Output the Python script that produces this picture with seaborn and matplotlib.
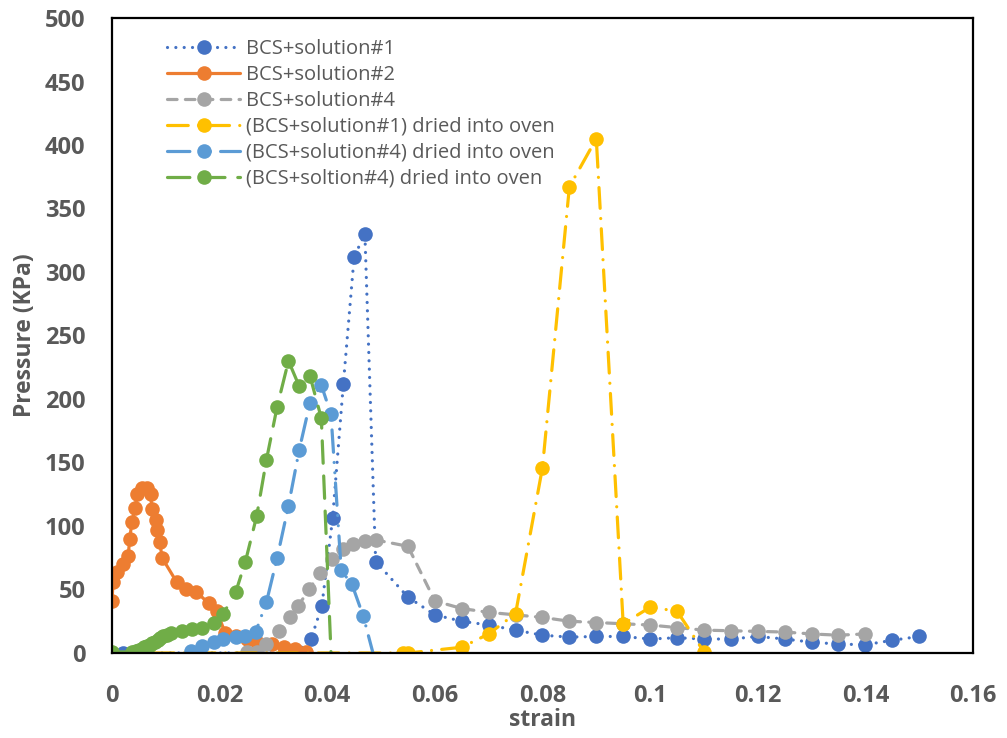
import matplotlib
matplotlib.use("Agg")
import matplotlib.pyplot as plt
import seaborn as sns
import pandas as pd

# ---------------- data ----------------
labels = ["BCS+solution#1", "BCS+solution#2", "BCS+solution#4",
          "(BCS+solution#1) dried into oven", "(BCS+solution#4) dried into oven",
          "(BCS+soltion#4) dried into oven"]

x1 = [0, 0.002, 0.034, 0.037, 0.039, 0.041, 0.043, 0.045, 0.047, 0.049, 0.055, 0.06, 0.065,
      0.07, 0.075, 0.08, 0.085, 0.09, 0.095, 0.1, 0.105, 0.11, 0.115, 0.12, 0.125, 0.13,
      0.135, 0.14, 0.145, 0.15]
y1 = [0, 0, 0, 11, 37, 106, 212, 312, 330, 72, 44, 30, 25, 22, 18, 14, 12.5, 13, 13, 11, 12,
      11, 11, 13, 11, 8.5, 7, 6.5, 10, 13]

x2 = [0.0, 0.0002, 0.001, 0.002, 0.003, 0.0033, 0.0037, 0.0043, 0.0047, 0.0056, 0.0065,
      0.0072, 0.0074, 0.0081, 0.0083, 0.0089, 0.0093, 0.012, 0.0137, 0.0157, 0.018, 0.0195,
      0.021, 0.023, 0.025, 0.0267, 0.0297, 0.032, 0.034, 0.036]
y2 = [41, 56, 64, 70, 76, 90, 103, 114, 125, 130, 130, 125, 113, 105, 97, 87, 75, 56, 50, 48,
      39, 33, 16, 13, 11, 9.5, 7, 5, 3, 1]

x3 = [0.025, 0.027, 0.0287, 0.031, 0.033, 0.0346, 0.0366, 0.0387, 0.0408, 0.043, 0.0448,
      0.047, 0.049, 0.055, 0.06, 0.065, 0.07, 0.075, 0.08, 0.085, 0.09, 0.095, 0.1, 0.105,
      0.11, 0.115, 0.12, 0.125, 0.13, 0.135, 0.14]
y3 = [0.7, 0.7, 7, 17, 28, 37, 50, 63, 74, 82, 86, 88, 89, 84, 41, 35, 32, 30, 28, 25, 24,
      23, 22, 20, 18, 17.5, 17, 16.5, 15, 14, 15]

x4 = [0, 0.054, 0.055, 0.065, 0.07, 0.075, 0.08, 0.085, 0.09, 0.095, 0.1, 0.105, 0.11]
y4 = [0, 0, 0, 4.5, 15, 31, 146, 367, 405, 23, 36, 33, 1]

x5 = [0.0146, 0.0167, 0.0189, 0.0207, 0.023, 0.0248, 0.0267, 0.0287, 0.0307, 0.0328, 0.0348,
      0.0368, 0.0389, 0.0407, 0.0426, 0.0446, 0.0467, 0.0485]
y5 = [1.6, 5.5, 8.6, 11, 12.5, 13.4, 16.5, 40, 75, 116, 160, 197, 211, 188, 65, 54, 29, 0]

x6 = [0, 0.0037, 0.0045, 0.005, 0.0055, 0.006, 0.0065, 0.007, 0.0075, 0.008, 0.0085, 0.009,
      0.0095, 0.0102, 0.011, 0.013, 0.0148, 0.0167, 0.0189, 0.0207, 0.023, 0.0248, 0.0269,
      0.0287, 0.0307, 0.0328, 0.0348, 0.0368, 0.0389, 0.0407]
y6 = [0.8, 0.8, 1.5, 2.5, 3.5, 4.5, 5.5, 6.5, 8, 9, 10.5, 11.5, 13, 14.5, 16, 17, 19, 20, 24,
      31, 48, 72, 108, 152, 194, 230, 210, 218, 185, 0]

x_ticks = [0, 0.02, 0.04, 0.06, 0.08, 0.1, 0.12, 0.14, 0.16]
x_tick_labels = ["0", "0.02", "0.04", "0.06", "0.08", "0.1", "0.12", "0.14", "0.16"]
y_ticks = [0, 50, 100, 150, 200, 250, 300, 350, 400, 450, 500]

colors = ["#4472C4", "#ED7D31", "#A5A5A5", "#FFC000", "#5B9BD5", "#70AD47"]

# ---------------- style ----------------
sns.set_style("white")
plt.rcParams["font.family"] = ["Open Sans", "DejaVu Sans"]

fig = plt.figure(figsize=(10.07, 7.38), dpi=100)
ax = fig.add_axes([0.1112, 0.1152, 0.8550, 0.8604])

lw = 2.3
styles = [
    dict(linestyle=(0, (0.01, 2.6)), dash_capstyle="round"),
    dict(linestyle="-"),
    dict(linestyle=(0, (3.0, 2.6)), dash_capstyle="round"),
    dict(linestyle=(0, (6.5, 3.2, 0.01, 3.2)), dash_capstyle="round"),
    dict(linestyle=(0, (7, 3.2, 0.01, 3.2, 0.01, 3.2)), dash_capstyle="round"),
    dict(linestyle=(0, (7, 4)), dash_capstyle="round"),
]
series = [(x1, y1), (x2, y2), (x3, y3), (x4, y4), (x5, y5), (x6, y6)]

for i, (xs, ys) in enumerate(series):
    df = pd.DataFrame({"x": xs, "y": ys})
    kw = dict(styles[i])
    if i in (4, 5):
        kw["markevery"] = list(range(len(xs) - 1))
    sns.lineplot(data=df, x="x", y="y", ax=ax, sort=False, estimator=None,
                 color=colors[i], linewidth=lw, marker="o", markersize=10.5,
                 markeredgewidth=0, label=labels[i], **kw)

ax.set_xlim(0, 0.16)
ax.set_ylim(0, 500)
ax.set_xticks(x_ticks)
ax.set_xticklabels(x_tick_labels)
ax.set_yticks(y_ticks)

for sp in ax.spines.values():
    sp.set_color("black")
    sp.set_linewidth(1.6)
    sp.set_visible(True)

tick_color = "#595959"
ax.tick_params(axis="both", length=0, labelsize=17, labelcolor=tick_color)
ax.tick_params(axis="x", pad=22)
ax.tick_params(axis="y", pad=19)
for lab in ax.get_xticklabels() + ax.get_yticklabels():
    lab.set_fontweight("bold")

ax.set_xlabel("strain", fontsize=16.5, fontweight="bold", color=tick_color, labelpad=0)
ax.set_ylabel("Pressure (KPa)", fontsize=16.5, fontweight="bold", color=tick_color, labelpad=6)
ax.grid(False)

leg = ax.legend(loc="upper left", bbox_to_anchor=(0.055, 0.98), frameon=False,
                fontsize=14.5, handlelength=3.6, handletextpad=0.3, labelspacing=0.3,
                borderaxespad=0)
for t in leg.get_texts():
    t.set_color(tick_color)

fig.savefig("out.png", dpi=100)
